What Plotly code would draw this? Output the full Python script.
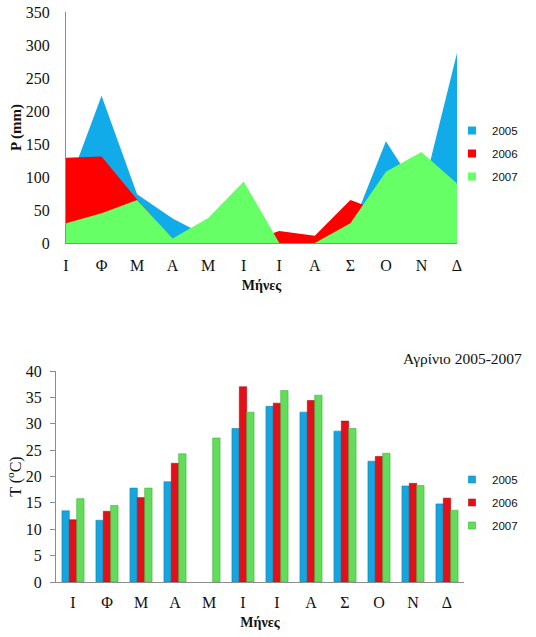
import plotly.graph_objects as go

months = ["Ι", "Φ", "Μ", "Α", "Μ", "Ι", "Ι", "Α", "Σ", "Ο", "Ν", "Δ"]
years = ["2005", "2006", "2007"]

# Precipitation P (mm)
p2005 = [78, 223, 74, 37, 9, 30, 2, 3, 18, 154, 70, 288]
p2006 = [129, 131, 66, 5, 20, 0, 18, 11, 65, 45, 50, 60]
p2007 = [30, 45, 65, 7, 38, 93, 0, 0, 30, 108, 138, 90]

# Temperature T (°C)
t2005 = [13.5, 11.7, 17.8, 19.0, None, 29.1, 33.3, 32.2, 28.6, 22.9, 18.2, 14.8]
t2006 = [11.8, 13.4, 16.0, 22.5, None, 37.0, 33.9, 34.4, 30.5, 23.8, 18.7, 15.9]
t2007 = [15.8, 14.5, 17.8, 24.3, 27.3, 32.2, 36.3, 35.4, 29.1, 24.4, 18.3, 13.6]

area_colors = ["#10ABE8", "#FF0000", "#66FF66"]
bar_colors = ["#17A5DE", "#E3101A", "#62DC5A"]
bar_edges = ["#0E86B8", "#B00A10", "#3FB43A"]

W, H = 536, 637
SERIF = "Liberation Serif"
SANS = "Liberation Sans"

fig = go.Figure()
xs = list(range(len(months)))

# Top: overlapping area chart
for name, vals, col in zip(years, [p2005, p2006, p2007], area_colors):
    fig.add_trace(go.Scatter(
        x=xs, y=vals, mode="none", fill="tozeroy", fillcolor=col,
        name=name, legendgroup="p" + name, showlegend=False,
        xaxis="x", yaxis="y", hoverinfo="x+y"))
    fig.add_trace(go.Scatter(
        x=[None], y=[None], mode="markers",
        marker=dict(symbol="square", size=8, color=col),
        name=name, legendgroup="p" + name, showlegend=True,
        legend="legend", xaxis="x", yaxis="y"))

# Bottom: grouped bars
for name, vals, col, ec in zip(years, [t2005, t2006, t2007], bar_colors, bar_edges):
    fig.add_trace(go.Bar(
        x=xs, y=vals, name=name, legendgroup="t" + name, showlegend=False,
        marker=dict(color=col, line=dict(color=ec, width=0.6)),
        xaxis="x2", yaxis="y2"))
    fig.add_trace(go.Scatter(
        x=[None], y=[None], mode="markers",
        marker=dict(symbol="square", size=7, color=col, line=dict(color=ec, width=0.6)),
        name=name, legendgroup="t" + name, showlegend=True,
        legend="legend2", xaxis="x2", yaxis="y2"))

def px_x(p):
    return p / W

def px_y(p):
    return (H - p) / H

axis_font = dict(family=SERIF, size=16, color="#111111")

fig.update_layout(
    width=W, height=H,
    margin=dict(l=0, r=0, t=0, b=0, autoexpand=False),
    paper_bgcolor="white", plot_bgcolor="white",
    barmode="group", bargap=0.35, bargroupgap=0.0,
    xaxis=dict(
        domain=[px_x(66), px_x(457)], range=[0, 11],
        tickmode="array", tickvals=xs, ticktext=months,
        showgrid=False, zeroline=False, showline=True,
        linecolor="#8C8C8C", linewidth=1, ticks="",
        tickfont=axis_font, ticklabelstandoff=8, automargin=False,
        title=dict(text="<b>Μήνες</b>", font=dict(family=SERIF, size=14, color="#111111"), standoff=6),
        anchor="y", fixedrange=True),
    yaxis=dict(
        domain=[px_y(243), px_y(12)], range=[0, 350],
        tickmode="array", tickvals=[0, 50, 100, 150, 200, 250, 300, 350],
        showgrid=False, zeroline=False, showline=True,
        linecolor="#8C8C8C", linewidth=1, ticks="",
        tickfont=axis_font, ticklabelstandoff=12, automargin=False,
        ticklabeloverflow="allow",
        title=dict(text="<b>P (mm)</b>", font=dict(family=SERIF, size=15, color="#111111"), standoff=0),
        anchor="x", fixedrange=True),
    xaxis2=dict(
        domain=[px_x(56), px_x(464)], range=[-0.5, 11.5],
        tickmode="array", tickvals=xs, ticktext=months,
        showgrid=False, zeroline=False, showline=True,
        linecolor="#8C8C8C", linewidth=1, ticks="",
        tickfont=axis_font, ticklabelstandoff=6, automargin=False,
        title=dict(text="<b>Μήνες</b>", font=dict(family=SERIF, size=14, color="#111111"), standoff=6),
        anchor="y2", fixedrange=True),
    yaxis2=dict(
        domain=[px_y(582), px_y(371)], range=[0, 40],
        tickmode="array", tickvals=[0, 5, 10, 15, 20, 25, 30, 35, 40],
        showgrid=False, zeroline=False, showline=True,
        linecolor="#8C8C8C", linewidth=1, ticks="outside", ticklen=5,
        tickcolor="#8C8C8C",
        tickfont=axis_font, ticklabelstandoff=5, automargin=False,
        ticklabeloverflow="allow",
        title=dict(text="T (<sup>o</sup>C)", font=dict(family=SERIF, size=16, color="#111111"), standoff=0),
        anchor="x2", fixedrange=True),
    legend=dict(
        x=px_x(452), y=px_y(116), xanchor="left", yanchor="top",
        bgcolor="rgba(0,0,0,0)", font=dict(family=SANS, size=11.5, color="#111111"),
        tracegroupgap=4, itemclick=False, itemdoubleclick=False),
    legend2=dict(
        x=px_x(452), y=px_y(465), xanchor="left", yanchor="top",
        bgcolor="rgba(0,0,0,0)", font=dict(family=SANS, size=11.5, color="#111111"),
        tracegroupgap=4, itemclick=False, itemdoubleclick=False),
    annotations=[dict(
        text="Αγρίνιο 2005-2007", xref="paper", yref="paper",
        x=px_x(524), y=px_y(358), xanchor="right", yanchor="middle",
        showarrow=False, font=dict(family=SERIF, size=15.5, color="#111111"))],
    showlegend=True,
)

# remove the browser's default 8px body margin so the figure fills the window
fig.write_html("out.html", config={"displayModeBar": False},
               post_script="document.body.style.margin='0';")
